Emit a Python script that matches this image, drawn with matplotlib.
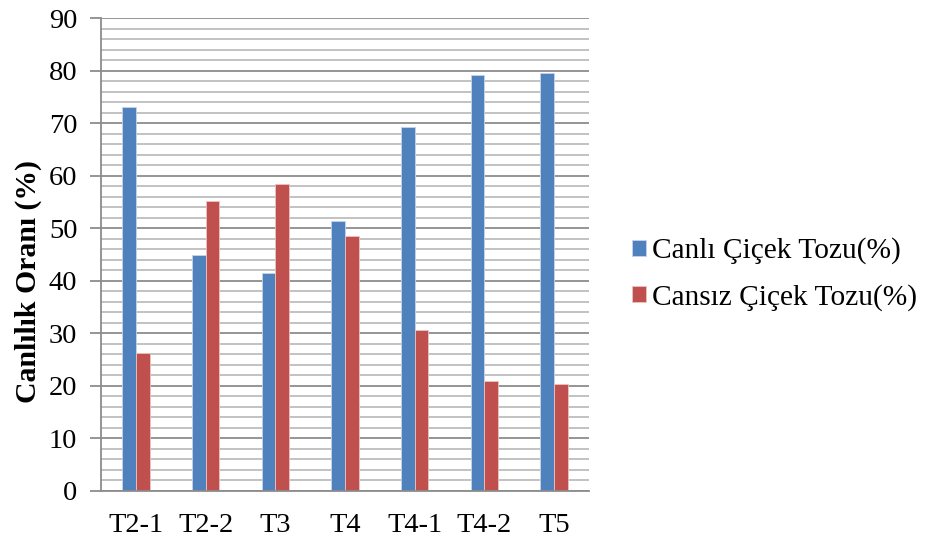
import matplotlib.pyplot as plt
import numpy as np

plt.rcParams['font.family'] = ['Liberation Serif', 'DejaVu Serif']

gruplar = ['T2-1', 'T2-2', 'T3', 'T4', 'T4-1', 'T4-2', 'T5']
canli = [73.1, 44.9, 41.5, 51.4, 69.2, 79.1, 79.6]
cansiz = [26.3, 55.1, 58.4, 48.6, 30.6, 20.9, 20.4]

x = np.arange(len(gruplar))
w = 0.197

fig = plt.figure(figsize=(9.29, 5.43), dpi=100)
ax = fig.add_axes([101 / 929, 1 - 491 / 543, 488 / 929, 473 / 543])

# yatay izgara: 2'lik ara cizgiler acik, 10'luk cizgiler koyu
for yy in range(0, 91, 2):
    if yy % 10 == 0:
        ax.axhline(yy, color='#8C8C8C', lw=1.3, zorder=1)
    else:
        ax.axhline(yy, color='#BDBDBD', lw=1.3, zorder=1)

ax.bar(x - w / 2, canli, w, color='#4F81BD', edgecolor='#C6D5EA', lw=0.6,
       label='Canlı Çiçek Tozu(%)', zorder=3)
ax.bar(x + w / 2, cansiz, w, color='#C0504D', edgecolor='#EBC4C3', lw=0.6,
       label='Cansız Çiçek Tozu(%)', zorder=3)

ax.set_xlim(-0.5, len(gruplar) - 0.5)
ax.set_ylim(0, 90)
ax.set_yticks(range(0, 91, 10))
ax.set_xticks(x)
ax.set_xticklabels(gruplar)
ax.tick_params(axis='y', length=8, width=1.3, color='#8C8C8C', labelsize=20.5, pad=9)
ax.tick_params(axis='x', length=0, labelsize=20.5, pad=16)

for s in ['top', 'right']:
    ax.spines[s].set_visible(False)
for s in ['left', 'bottom']:
    ax.spines[s].set_color('#8C8C8C')
    ax.spines[s].set_linewidth(1.3)
    ax.spines[s].set_zorder(4)

fig.text(28 / 929, 1 - 282 / 543, 'Canlılık Oranı (%)', rotation=90,
         ha='center', va='center', fontsize=21.4, fontweight='bold')

fig.legend(loc='center left', bbox_to_anchor=(632 / 929, 1 - 274 / 543),
           frameon=False, borderpad=0, borderaxespad=0,
           fontsize=21.2, handlelength=0.46, handleheight=0.46, handletextpad=0.22,
           labelspacing=0.65)

fig.savefig('out.png', dpi=100)
